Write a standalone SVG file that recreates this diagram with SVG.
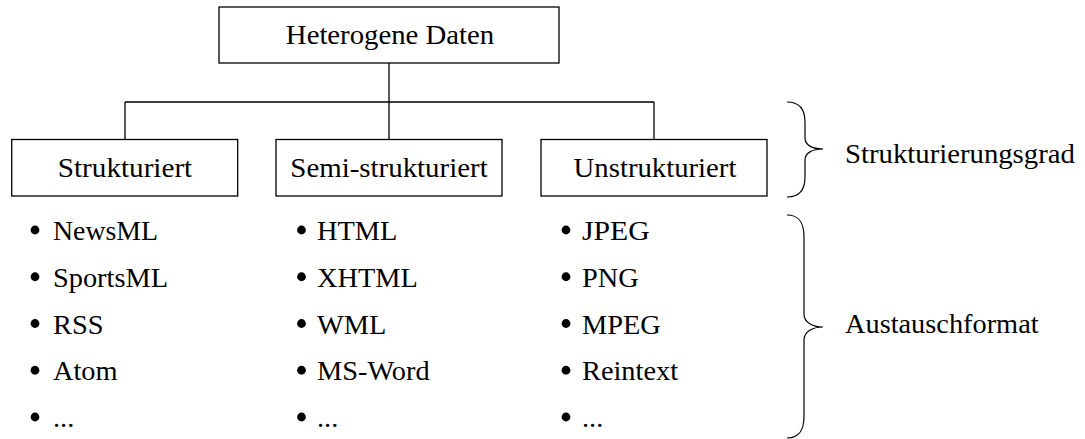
<svg xmlns="http://www.w3.org/2000/svg" width="1085" height="439" viewBox="0 0 1085 439">
<rect width="1085" height="439" fill="#fff"/>
<g id="connectors" fill="none" stroke="#000" stroke-width="1.3">
<path d="M389,63 V139.5 M125,102 H654 M125,102 V139.5 M654,102 V139.5"/>
</g>
<g id="root">
<rect x="219" y="7" width="340" height="56" fill="#fff" stroke="#000" stroke-width="1.3"/>
<text transform="translate(390,44) scale(1.065,1)" text-anchor="middle" font-family="Liberation Serif" font-size="27"><tspan font-family="Liberation Serif" style="font-family:'Liberation Serif',serif">Heterogene Daten</tspan></text>
</g>
<g id="strukturiert">
<rect x="11.7" y="139.5" width="226" height="56.5" fill="#fff" stroke="#000" stroke-width="1.3"/>
<text transform="translate(125,177) scale(1.08,1)" text-anchor="middle" font-family="Liberation Serif" font-size="27"><tspan font-family="Liberation Serif" style="font-family:'Liberation Serif',serif">Strukturiert</tspan></text>
</g>
<g id="semi">
<rect x="276" y="139.5" width="226" height="56.5" fill="#fff" stroke="#000" stroke-width="1.3"/>
<text transform="translate(389,177) scale(1.07,1)" text-anchor="middle" font-family="Liberation Serif" font-size="27"><tspan font-family="Liberation Serif" style="font-family:'Liberation Serif',serif">Semi-strukturiert</tspan></text>
</g>
<g id="unstrukturiert">
<rect x="541" y="139.5" width="226" height="56.5" fill="#fff" stroke="#000" stroke-width="1.3"/>
<text transform="translate(655,177) scale(1.065,1)" text-anchor="middle" font-family="Liberation Serif" font-size="27"><tspan font-family="Liberation Serif" style="font-family:'Liberation Serif',serif">Unstrukturiert</tspan></text>
</g>
<g id="list1">
<circle cx="35" cy="230" r="4.4"/><text transform="translate(53,240) scale(1.03,1)" font-family="Liberation Serif" font-size="27"><tspan font-family="Liberation Serif" style="font-family:'Liberation Serif',serif">NewsML</tspan></text>
<circle cx="35" cy="276.75" r="4.4"/><text transform="translate(53,286.75) scale(1.05,1)" font-family="Liberation Serif" font-size="27"><tspan font-family="Liberation Serif" style="font-family:'Liberation Serif',serif">SportsML</tspan></text>
<circle cx="35" cy="323.5" r="4.4"/><text transform="translate(53,333.5) scale(1.05,1)" font-family="Liberation Serif" font-size="27"><tspan font-family="Liberation Serif" style="font-family:'Liberation Serif',serif">RSS</tspan></text>
<circle cx="35" cy="370.25" r="4.4"/><text transform="translate(53,380.25) scale(1.05,1)" font-family="Liberation Serif" font-size="27"><tspan font-family="Liberation Serif" style="font-family:'Liberation Serif',serif">Atom</tspan></text>
<circle cx="35" cy="417" r="4.4"/><text transform="translate(53,427) scale(1.05,1)" font-family="Liberation Serif" font-size="27"><tspan font-family="Liberation Serif" style="font-family:'Liberation Serif',serif">...</tspan></text>
</g>
<g id="list2">
<circle cx="301.5" cy="230" r="4.4"/><text transform="translate(317,240) scale(1.05,1)" font-family="Liberation Serif" font-size="27"><tspan font-family="Liberation Serif" style="font-family:'Liberation Serif',serif">HTML</tspan></text>
<circle cx="301.5" cy="276.75" r="4.4"/><text transform="translate(317,286.75) scale(1.05,1)" font-family="Liberation Serif" font-size="27"><tspan font-family="Liberation Serif" style="font-family:'Liberation Serif',serif">XHTML</tspan></text>
<circle cx="301.5" cy="323.5" r="4.4"/><text transform="translate(317,333.5) scale(1.05,1)" font-family="Liberation Serif" font-size="27"><tspan font-family="Liberation Serif" style="font-family:'Liberation Serif',serif">WML</tspan></text>
<circle cx="301.5" cy="370.25" r="4.4"/><text transform="translate(317,380.25) scale(1.05,1)" font-family="Liberation Serif" font-size="27"><tspan font-family="Liberation Serif" style="font-family:'Liberation Serif',serif">MS-Word</tspan></text>
<circle cx="301.5" cy="417" r="4.4"/><text transform="translate(317,427) scale(1.05,1)" font-family="Liberation Serif" font-size="27"><tspan font-family="Liberation Serif" style="font-family:'Liberation Serif',serif">...</tspan></text>
</g>
<g id="list3">
<circle cx="566" cy="230" r="4.4"/><text transform="translate(582,240) scale(1.1,1)" font-family="Liberation Serif" font-size="27"><tspan font-family="Liberation Serif" style="font-family:'Liberation Serif',serif">JPEG</tspan></text>
<circle cx="566" cy="276.75" r="4.4"/><text transform="translate(582,286.75) scale(1.05,1)" font-family="Liberation Serif" font-size="27"><tspan font-family="Liberation Serif" style="font-family:'Liberation Serif',serif">PNG</tspan></text>
<circle cx="566" cy="323.5" r="4.4"/><text transform="translate(582,333.5) scale(1.05,1)" font-family="Liberation Serif" font-size="27"><tspan font-family="Liberation Serif" style="font-family:'Liberation Serif',serif">MPEG</tspan></text>
<circle cx="566" cy="370.25" r="4.4"/><text transform="translate(582,380.25) scale(1.05,1)" font-family="Liberation Serif" font-size="27"><tspan font-family="Liberation Serif" style="font-family:'Liberation Serif',serif">Reintext</tspan></text>
<circle cx="566" cy="417" r="4.4"/><text transform="translate(582,427) scale(1.05,1)" font-family="Liberation Serif" font-size="27"><tspan font-family="Liberation Serif" style="font-family:'Liberation Serif',serif">...</tspan></text>
</g>
<g id="brace-struktur">
<path d="M787,102 C799,102 805,108 805,122 L805,138 C805,145 812,149 823,149 C812,149 805,153 805,160 L805,177 C805,191 799,197 787,197" fill="none" stroke="#000" stroke-width="1.2"/>
<text transform="translate(845,163) scale(1.065,1)" font-family="Liberation Serif" font-size="27"><tspan font-family="Liberation Serif" style="font-family:'Liberation Serif',serif">Strukturierungsgrad</tspan></text>
</g>
<g id="brace-format">
<path d="M787,215 C799,215 804,222 804,237 L804,314 C804,322 812,327 823,327 C812,327 804,332 804,340 L804,416 C804,431 799,438 787,438" fill="none" stroke="#000" stroke-width="1.2"/>
<text transform="translate(845,333) scale(1.05,1)" font-family="Liberation Serif" font-size="27"><tspan font-family="Liberation Serif" style="font-family:'Liberation Serif',serif">Austauschformat</tspan></text>
</g>
</svg>
